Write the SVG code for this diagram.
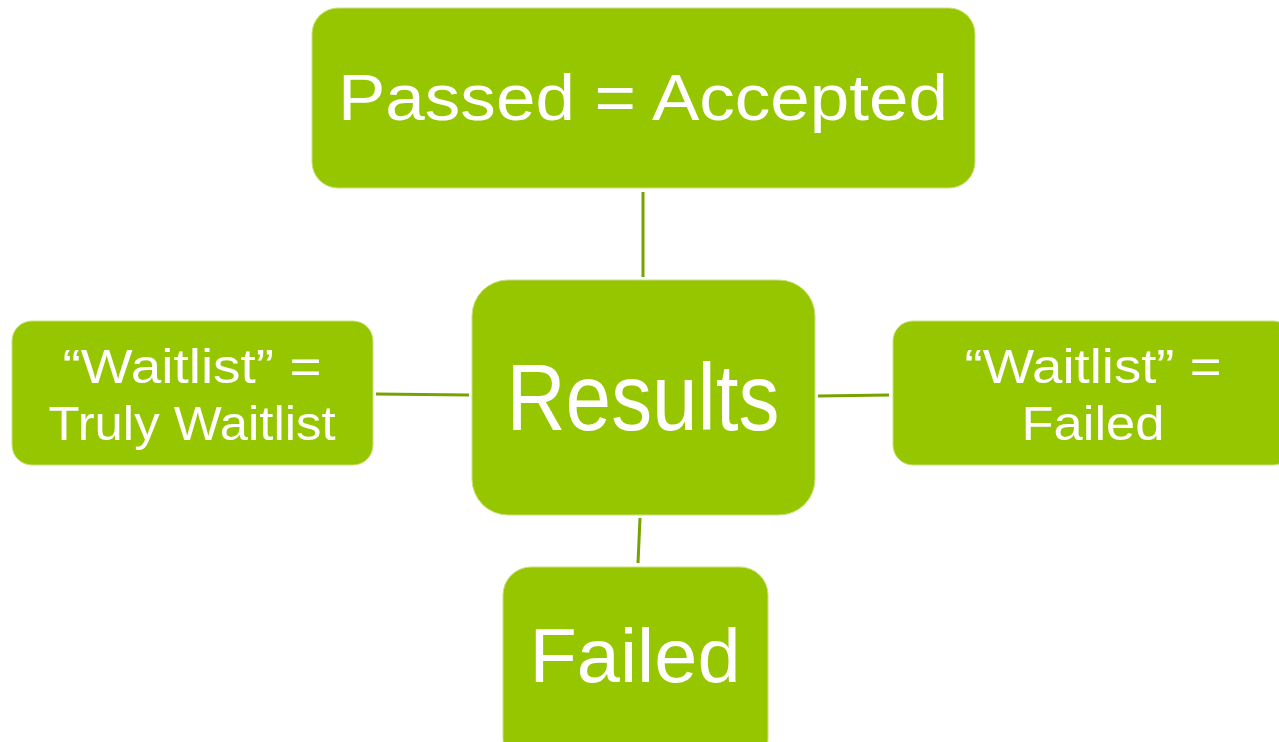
<svg xmlns="http://www.w3.org/2000/svg" width="1279" height="742" viewBox="0 0 1279 742">
<style>
.node{fill:#95C600;stroke:#C9E27A;stroke-width:1}
.t{fill:#FFFFFF;font-family:"Liberation Sans","Open Sans",sans-serif;text-anchor:middle}
.edge{stroke:#76A300;stroke-width:3;fill:none}
</style>
<rect width="1279" height="742" fill="#FFFFFF"/>
<g id="connectors">
<line class="edge" x1="643" y1="192" x2="643" y2="277"/>
<line class="edge" x1="376" y1="394" x2="469" y2="395"/>
<line class="edge" x1="818" y1="396" x2="889" y2="395"/>
<line class="edge" x1="640" y1="518" x2="638" y2="563"/>
</g>
<g id="node-passed">
<rect class="node" x="312" y="8" width="663" height="180" rx="26"/>
<text class="t" x="643" y="120" font-size="64" textLength="610" lengthAdjust="spacingAndGlyphs">Passed = Accepted</text>
</g>
<g id="node-results">
<rect class="node" x="472" y="280" width="343" height="235" rx="36"/>
<text class="t" x="643" y="430" font-size="94" textLength="273" lengthAdjust="spacingAndGlyphs">Results</text>
</g>
<g id="node-waitlist-left">
<rect class="node" x="12" y="321" width="361" height="144" rx="20"/>
<text class="t" x="192" y="383" font-size="49" textLength="259" lengthAdjust="spacingAndGlyphs">“Waitlist” =</text>
<text class="t" x="192" y="440" font-size="49" textLength="287" lengthAdjust="spacingAndGlyphs">Truly Waitlist</text>
</g>
<g id="node-waitlist-right">
<rect class="node" x="893" y="321" width="400" height="144" rx="20"/>
<text class="t" x="1093" y="383" font-size="49" textLength="257" lengthAdjust="spacingAndGlyphs">“Waitlist” =</text>
<text class="t" x="1093" y="440" font-size="49" textLength="143" lengthAdjust="spacingAndGlyphs">Failed</text>
</g>
<g id="node-failed">
<rect class="node" x="503" y="567" width="265" height="200" rx="28"/>
<text class="t" x="635" y="682" font-size="76" textLength="211" lengthAdjust="spacingAndGlyphs">Failed</text>
</g>
</svg>
